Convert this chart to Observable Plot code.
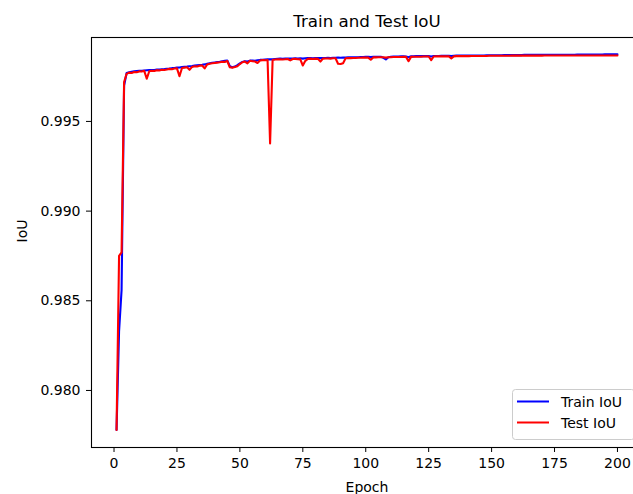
<!DOCTYPE html>
<html>
<head>
<meta charset="utf-8">
<script src="https://cdn.jsdelivr.net/npm/d3@7"></script>
<script src="https://cdn.jsdelivr.net/npm/@observablehq/plot@0.6"></script>
<style>
  html, body { margin: 0; padding: 0; background: #fff; overflow: hidden; }
  #chart svg { display: block; }
</style>
</head>
<body>
<div id="chart"></div>
<script>
// IoU per epoch (epoch 1 .. 200)
const trainIoU = [
  0.97780, 0.98330, 0.98560, 0.99700, 0.99770, 0.99774, 0.99777, 0.99779, 0.99781, 0.99782,
  0.99783, 0.99784, 0.99785, 0.99786, 0.99786, 0.99787, 0.99789, 0.99790, 0.99791, 0.99792,
  0.99794, 0.99795, 0.99797, 0.99798, 0.99800, 0.99801, 0.99803, 0.99805, 0.99806, 0.99808,
  0.99809, 0.99811, 0.99813, 0.99815, 0.99816, 0.99818, 0.99821, 0.99824, 0.99827, 0.99829,
  0.99831, 0.99833, 0.99836, 0.99838, 0.99840, 0.99808, 0.99802, 0.99806, 0.99814, 0.99824,
  0.99832, 0.99836, 0.99834, 0.99839, 0.99840, 0.99838, 0.99841, 0.99843, 0.99844, 0.99845,
  0.99846, 0.99847, 0.99846, 0.99848, 0.99849, 0.99850, 0.99849, 0.99850, 0.99851, 0.99851,
  0.99851, 0.99852, 0.99851, 0.99852, 0.99850, 0.99852, 0.99853, 0.99853, 0.99852, 0.99853,
  0.99854, 0.99853, 0.99854, 0.99854, 0.99855, 0.99854, 0.99855, 0.99855, 0.99856, 0.99855,
  0.99856, 0.99856, 0.99857, 0.99857, 0.99858, 0.99858, 0.99858, 0.99859, 0.99859, 0.99860,
  0.99860, 0.99859, 0.99860, 0.99861, 0.99861, 0.99861, 0.99855, 0.99846, 0.99858, 0.99861,
  0.99862, 0.99862, 0.99862, 0.99863, 0.99863, 0.99862, 0.99858, 0.99863, 0.99863, 0.99864,
  0.99864, 0.99864, 0.99864, 0.99865, 0.99864, 0.99862, 0.99865, 0.99865, 0.99865, 0.99866,
  0.99866, 0.99866, 0.99866, 0.99864, 0.99866, 0.99867, 0.99867, 0.99867, 0.99867, 0.99867,
  0.99867, 0.99868, 0.99868, 0.99868, 0.99868, 0.99868, 0.99868, 0.99869, 0.99869, 0.99869,
  0.99869, 0.99869, 0.99869, 0.99869, 0.99870, 0.99870, 0.99870, 0.99870, 0.99870, 0.99870,
  0.99870, 0.99870, 0.99871, 0.99871, 0.99871, 0.99871, 0.99871, 0.99871, 0.99871, 0.99871,
  0.99871, 0.99871, 0.99872, 0.99872, 0.99872, 0.99872, 0.99872, 0.99872, 0.99872, 0.99872,
  0.99872, 0.99872, 0.99872, 0.99873, 0.99873, 0.99873, 0.99873, 0.99873, 0.99873, 0.99873,
  0.99873, 0.99873, 0.99873, 0.99873, 0.99874, 0.99874, 0.99874, 0.99874, 0.99874, 0.99874
];

const testIoU = [
  0.97780, 0.98750, 0.98770, 0.99720, 0.99765, 0.99772, 0.99770, 0.99776, 0.99774, 0.99779,
  0.99778, 0.99782, 0.99738, 0.99780, 0.99783, 0.99781, 0.99786, 0.99784, 0.99788, 0.99787,
  0.99790, 0.99793, 0.99791, 0.99795, 0.99796, 0.99752, 0.99798, 0.99800, 0.99802, 0.99788,
  0.99804, 0.99808, 0.99806, 0.99811, 0.99812, 0.99796, 0.99818, 0.99822, 0.99824, 0.99826,
  0.99828, 0.99830, 0.99833, 0.99832, 0.99837, 0.99802, 0.99800, 0.99803, 0.99808, 0.99820,
  0.99830, 0.99834, 0.99824, 0.99838, 0.99836, 0.99834, 0.99826, 0.99840, 0.99842, 0.99841,
  0.99843, 0.99377, 0.99842, 0.99845, 0.99846, 0.99847, 0.99845, 0.99847, 0.99848, 0.99840,
  0.99848, 0.99849, 0.99847, 0.99846, 0.99812, 0.99838, 0.99849, 0.99850, 0.99848, 0.99850,
  0.99849, 0.99834, 0.99850, 0.99851, 0.99851, 0.99850, 0.99852, 0.99852, 0.99822, 0.99820,
  0.99825, 0.99852, 0.99853, 0.99853, 0.99854, 0.99854, 0.99855, 0.99855, 0.99856, 0.99856,
  0.99856, 0.99844, 0.99857, 0.99857, 0.99858, 0.99858, 0.99858, 0.99856, 0.99858, 0.99858,
  0.99859, 0.99859, 0.99859, 0.99859, 0.99860, 0.99860, 0.99836, 0.99860, 0.99861, 0.99861,
  0.99861, 0.99861, 0.99862, 0.99862, 0.99862, 0.99842, 0.99862, 0.99863, 0.99863, 0.99863,
  0.99863, 0.99863, 0.99863, 0.99852, 0.99863, 0.99864, 0.99864, 0.99864, 0.99864, 0.99864,
  0.99864, 0.99865, 0.99865, 0.99865, 0.99865, 0.99865, 0.99865, 0.99865, 0.99866, 0.99866,
  0.99866, 0.99866, 0.99866, 0.99866, 0.99866, 0.99866, 0.99866, 0.99867, 0.99867, 0.99867,
  0.99867, 0.99867, 0.99867, 0.99867, 0.99867, 0.99867, 0.99867, 0.99867, 0.99867, 0.99867,
  0.99868, 0.99868, 0.99868, 0.99868, 0.99868, 0.99868, 0.99868, 0.99868, 0.99868, 0.99868,
  0.99868, 0.99868, 0.99868, 0.99868, 0.99868, 0.99868, 0.99868, 0.99868, 0.99868, 0.99868,
  0.99868, 0.99868, 0.99868, 0.99868, 0.99868, 0.99868, 0.99868, 0.99868, 0.99868, 0.99868
];

const epochs = trainIoU.map((_, i) => i + 1);
const xTicks = [0, 25, 50, 75, 100, 125, 150, 175, 200];
const yTicks = [0.980, 0.985, 0.990, 0.995];
const seriesNames = ["Train IoU", "Test IoU"];
const seriesColors = ["blue", "red"];

const font = "DejaVu Sans, Verdana, sans-serif";

const chart = Plot.plot({
  width: 643,
  height: 494,
  marginLeft: 91,
  marginRight: 1,
  marginTop: 37,
  marginBottom: 47,
  style: { fontFamily: font, fontSize: "14px", color: "#000", background: "#fff", maxWidth: "none", overflow: "visible" },
  x: { domain: [-8.95, 209.95] },
  y: { domain: [0.97682, 0.99968] },
  marks: [
    Plot.line(epochs, { x: d => d, y: (d, i) => trainIoU[i], stroke: seriesColors[0], strokeWidth: 2.1 }),
    Plot.line(epochs, { x: d => d, y: (d, i) => testIoU[i], stroke: seriesColors[1], strokeWidth: 2.1 }),
    Plot.frame({ stroke: "#000", strokeWidth: 1.1 }),
    Plot.axisX({ ticks: xTicks, tickFormat: d => String(d), tickSize: 5, tickPadding: 6, label: null, fontSize: 14, stroke: "#000" }),
    Plot.axisY({ ticks: yTicks, tickFormat: d3.format(".3f"), tickSize: 5, tickPadding: 6, label: null, fontSize: 14, stroke: "#000" }),
    Plot.text(["Train and Test IoU"], { frameAnchor: "top", dy: -10.5, lineAnchor: "bottom", fontSize: 16.7, fill: "#000" }),
    Plot.text(["Epoch"], { frameAnchor: "bottom", dy: 44, lineAnchor: "bottom", fontSize: 14, fill: "#000" }),
    Plot.text(["IoU"], { frameAnchor: "left", dx: -65, rotate: -90, lineAnchor: "bottom", fontSize: 14, fill: "#000" })
  ]
});

// Legend box in the lower right corner of the axes
const svg = d3.select(chart);
const legend = svg.append("g")
  .attr("font-family", font)
  .attr("font-size", 14)
  .attr("text-anchor", "start");
legend.append("rect")
  .attr("x", 512.5).attr("y", 389.5).attr("width", 122).attr("height", 50)
  .attr("rx", 3).attr("fill", "#fff").attr("fill-opacity", 0.8)
  .attr("stroke", "#cccccc").attr("stroke-width", 1);
seriesNames.forEach((name, i) => {
  const y = 401.5 + i * 21;
  legend.append("line")
    .attr("x1", 517).attr("x2", 549).attr("y1", y).attr("y2", y)
    .attr("stroke", seriesColors[i]).attr("stroke-width", 2);
  legend.append("text")
    .attr("x", 561).attr("y", y).attr("dy", "0.36em")
    .attr("text-anchor", "start")
    .attr("fill", "#000").text(name);
});

document.getElementById("chart").appendChild(chart);
</script>
</body>
</html>
